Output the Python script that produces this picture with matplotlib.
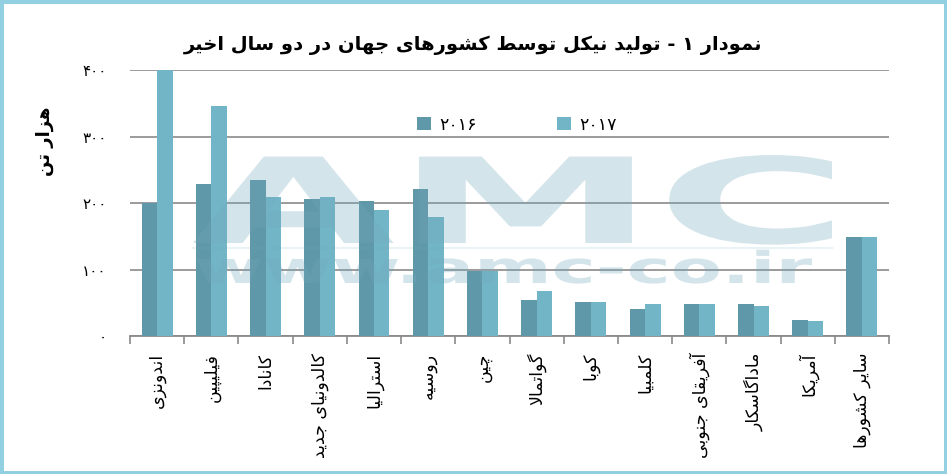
import matplotlib
matplotlib.use("Agg")
import matplotlib.pyplot as plt
import numpy as np
from matplotlib.textpath import TextPath
from matplotlib.patches import PathPatch, Rectangle
from matplotlib.font_manager import FontProperties
from matplotlib.transforms import Affine2D
from matplotlib.lines import Line2D

# Datos (miles de toneladas)
paises = ["اندونزی", "فیلیپین", "کانادا", "کالدونیای جدید", "استرالیا", "روسیه", "چین",
          "گواتمالا", "کوبا", "کلمبیا", "آفریقای جنوبی", "ماداگاسکار", "آمریکا", "سایر کشورها"]
tolid_2016 = [200, 229, 235, 206, 203, 221, 98, 54, 51, 41, 48, 48, 24, 149]
tolid_2017 = [400, 346, 209, 209, 190, 179, 98, 68, 51, 48, 48, 45, 22, 149]
series = ["۲۰۱۶", "۲۰۱۷"]
ticks_y = [0, 100, 200, 300, 400]
etiquetas_y = ["۰", "۱۰۰", "۲۰۰", "۳۰۰", "۴۰۰"]
titulo = "نمودار ۱ - تولید نیکل توسط کشورهای جهان در دو سال اخیر"
eje_y = "هزار تن"

# Formas de presentacion: aislada, final, inicial, media
DOBLE = {
    'ب': (0xFE8F, 0xFE90, 0xFE91, 0xFE92),
    'پ': (0xFB56, 0xFB57, 0xFB58, 0xFB59),
    'ت': (0xFE95, 0xFE96, 0xFE97, 0xFE98),
    'ج': (0xFE9D, 0xFE9E, 0xFE9F, 0xFEA0),
    'چ': (0xFB7A, 0xFB7B, 0xFB7C, 0xFB7D),
    'خ': (0xFEA5, 0xFEA6, 0xFEA7, 0xFEA8),
    'س': (0xFEB1, 0xFEB2, 0xFEB3, 0xFEB4),
    'ش': (0xFEB5, 0xFEB6, 0xFEB7, 0xFEB8),
    'ط': (0xFEC1, 0xFEC2, 0xFEC3, 0xFEC4),
    'ف': (0xFED1, 0xFED2, 0xFED3, 0xFED4),
    'ق': (0xFED5, 0xFED6, 0xFED7, 0xFED8),
    'ک': (0xFB8E, 0xFB8F, 0xFB90, 0xFB91),
    'گ': (0xFB92, 0xFB93, 0xFB94, 0xFB95),
    'ل': (0xFEDD, 0xFEDE, 0xFEDF, 0xFEE0),
    'م': (0xFEE1, 0xFEE2, 0xFEE3, 0xFEE4),
    'ن': (0xFEE5, 0xFEE6, 0xFEE7, 0xFEE8),
    'ه': (0xFEE9, 0xFEEA, 0xFEEB, 0xFEEC),
    'ی': (0xFBFC, 0xFBFD, 0xFBFE, 0xFBFF),
}
DERECHA = {
    'ا': (0xFE8D, 0xFE8E),
    'آ': (0xFE81, 0xFE82),
    'د': (0xFEA9, 0xFEAA),
    'ر': (0xFEAD, 0xFEAE),
    'ز': (0xFEAF, 0xFEB0),
    'و': (0xFEED, 0xFEEE),
}
LAM_ALEF = {'ا': (0xFEFB, 0xFEFC), 'آ': (0xFEF5, 0xFEF6)}


def dar_forma(texto):
    # unir letras persas y dar vuelta el orden (matplotlib escribe de izquierda a derecha)
    letras = list(texto)
    n = len(letras)
    salida = []
    i = 0
    while i < n:
        c = letras[i]
        previa = letras[i - 1] if i > 0 else ''
        une_antes = previa in DOBLE and (c in DOBLE or c in DERECHA)
        if c == 'ل' and i + 1 < n and letras[i + 1] in LAM_ALEF:
            f = LAM_ALEF[letras[i + 1]]
            salida.append(chr(f[1] if une_antes else f[0]))
            i += 2
            continue
        siguiente = letras[i + 1] if i + 1 < n else ''
        if c in DOBLE:
            une_despues = siguiente in DOBLE or siguiente in DERECHA
            f = DOBLE[c]
            if une_antes and une_despues:
                salida.append(chr(f[3]))
            elif une_antes:
                salida.append(chr(f[1]))
            elif une_despues:
                salida.append(chr(f[2]))
            else:
                salida.append(chr(f[0]))
        elif c in DERECHA:
            f = DERECHA[c]
            salida.append(chr(f[1] if une_antes else f[0]))
        else:
            salida.append(c)
        i += 1
    return ''.join(reversed(salida))


def marca_agua(fig, texto, x0, y0, x1, y1, color, alpha, ref_alto=None):
    # texto estirado para llenar una caja en pixeles (y desde arriba)
    prop = FontProperties(family='DejaVu Sans', weight='bold')
    path = TextPath((0, 0), texto, size=100, prop=prop)
    ext = path.get_extents()
    alto = ext.y1 if ref_alto is None else ref_alto
    sx = (x1 - x0) / ext.width
    sy = (y1 - y0) / alto
    H = fig.get_figheight() * fig.dpi
    tr = Affine2D().translate(-ext.x0, 0).scale(sx, sy).translate(x0, H - y1)
    fig.add_artist(PathPatch(path, transform=tr, facecolor=color, edgecolor='none',
                             alpha=alpha, zorder=5))


plt.rcParams['font.family'] = ['DejaVu Sans']

fig = plt.figure(figsize=(9.47, 4.74), dpi=100)
fig.patch.set_facecolor('white')

ax = fig.add_axes([0.1373, 0.2911, 0.8015, 0.5606])
x = np.arange(len(paises))
w = 0.285
ax.bar(x - w / 2, tolid_2016, w, color='#5f98a9', label=series[0], zorder=3)
ax.bar(x + w / 2, tolid_2017, w, color='#72b5c7', label=series[1], zorder=3)

ax.set_xlim(-0.5, len(paises) - 0.5)
ax.set_ylim(0, 400)
ax.set_yticks(ticks_y)
ax.set_yticklabels(etiquetas_y, fontsize=11)
ax.yaxis.grid(True, color='#8a8a8a', linewidth=1.2)
ax.set_axisbelow(True)
for s in ['left', 'top', 'right']:
    ax.spines[s].set_visible(False)
ax.spines['bottom'].set_color('#8a8a8a')
ax.spines['bottom'].set_linewidth(1.3)
ax.tick_params(axis='y', length=0, pad=17)

ax.set_xticks(x)
ax.set_xticklabels([dar_forma(p) for p in paises], rotation=90, va='top', ha='center', fontsize=12.5)
ax.set_xticks(np.arange(-0.5, len(paises), 1), minor=True)
ax.tick_params(axis='x', which='major', length=0, pad=12)
ax.tick_params(axis='x', which='minor', length=6, width=1.2, color='#8a8a8a', direction='out')

ax.legend(loc='center', bbox_to_anchor=(0.51, 0.795), ncol=2, frameon=False, fontsize=12.5,
          handlelength=0.8, handleheight=0.8, columnspacing=4.6, handletextpad=0.5)

fig.text(0.5, 1 - 45 / 474, dar_forma(titulo), ha='center', va='center',
         fontsize=14, fontweight='bold')
fig.text(45 / 947, 1 - 141 / 474, dar_forma(eje_y), rotation=90, ha='center', va='center',
         fontsize=13, fontweight='bold')

# marca de agua AMC
color_marca = '#70a8bc'
marca_agua(fig, "AMC", 193, 155, 832, 243, color_marca, 0.3)
prop = FontProperties(family='DejaVu Sans', weight='bold')
alto_x = TextPath((0, 0), "x", size=100, prop=prop).get_extents().y1
marca_agua(fig, "www.amc-co.ir", 197, 259, 812, 283, color_marca, 0.3, ref_alto=alto_x)
fig.add_artist(Line2D([193 / 947, 832 / 947], [1 - 248 / 474] * 2, transform=fig.transFigure,
                      color=color_marca, alpha=0.15, linewidth=1.5, zorder=5))

# borde celeste
fig.add_artist(Rectangle((0, 0), 1, 1, transform=fig.transFigure, fill=False,
                         edgecolor='#92cfe0', linewidth=5, zorder=10))

fig.savefig("out.png", dpi=100)
